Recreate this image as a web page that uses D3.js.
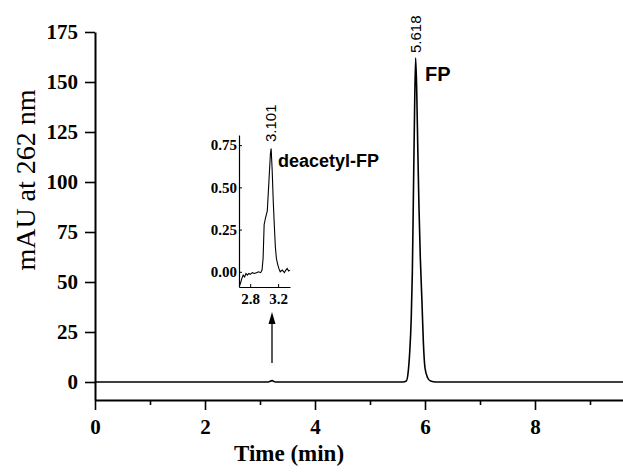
<!DOCTYPE html>
<html>
<head>
<meta charset="utf-8">
<script src="https://cdn.jsdelivr.net/npm/d3@7"></script>
<style>
  body { margin: 0; background: #fff; }
  svg { display: block; }
</style>
</head>
<body>
<div id="chart"></div>
<script>
'use strict';

var width = 623;
var height = 473;

// main trace (time in min, mAU)
var mainTimes = [0, 1, 2, 3, 3.15, 3.22, 3.28, 4, 5, 5.6, 5.66, 5.69, 5.72, 5.75, 5.77, 5.79, 5.81, 5.83, 5.85, 5.87, 5.89, 5.915, 5.945, 5.97, 6.0, 6.05, 6.1, 6.2, 7, 8, 9.6];
var mainValues = [0, 0, 0, 0, 0, 0.7, 0, 0, 0, 0, 0.5, 4, 14, 32, 55, 95, 135, 162, 145, 115, 88, 62, 40, 20, 7, 2, 0.5, 0, 0, 0, 0];

// inset trace, zoom on deacetyl-FP
var insetTimes = [2.645, 2.66, 2.68, 2.70, 2.72, 2.74, 2.76, 2.78, 2.80, 2.83, 2.86, 2.89, 2.92, 2.95, 2.97, 2.985, 3.00, 3.02, 3.045, 3.07, 3.09, 3.10, 3.115, 3.13, 3.145, 3.16, 3.175, 3.19, 3.21, 3.23, 3.26, 3.29, 3.31, 3.33, 3.35, 3.37];
var insetValues = [-0.085, -0.07, -0.04, -0.02, -0.03, -0.01, -0.02, -0.01, -0.015, -0.005, -0.01, -0.005, 0.0, -0.005, 0.01, 0.08, 0.28, 0.32, 0.36, 0.55, 0.70, 0.73, 0.60, 0.42, 0.28, 0.15, 0.08, 0.05, 0.02, 0.0, 0.01, -0.005, 0.01, 0.02, 0.005, 0.01];

var yTicks = [0, 25, 50, 75, 100, 125, 150, 175];
var xTicks = [0, 1, 2, 3, 4, 5, 6, 7, 8, 9];
var insetYTicks = [0, 0.25, 0.5, 0.75];
var insetXTicks = [2.8, 3.2];

var serif = '"Liberation Serif", "Times New Roman", serif';
var sans = '"Liberation Sans", Arial, sans-serif';

var svg = d3.select('#chart').append('svg').attr('width', width).attr('height', height);

var x = d3.scaleLinear().domain([0, 9.6]).range([95, 623]);
var y = d3.scaleLinear().domain([-9, 175]).range([400, 32]);

// y axis
var yAxis = svg.append('g').attr('transform', 'translate(95,0)')
  .call(d3.axisLeft(y).tickValues(yTicks).tickSize(10).tickSizeOuter(0).tickPadding(7));
yAxis.select('.domain').attr('stroke-width', 2);
yAxis.selectAll('.tick line').attr('stroke-width', 1.6);
yAxis.selectAll('.tick text').attr('font-family', serif).attr('font-weight', 'bold').attr('font-size', 21).attr('fill', '#000');

// x axis
var xAxis = svg.append('g').attr('transform', 'translate(0,400)')
  .call(d3.axisBottom(x).tickValues(xTicks).tickSize(10).tickSizeOuter(0).tickPadding(9)
    .tickFormat(function (d) { return d % 2 == 0 ? d : ''; }));
xAxis.select('.domain').attr('stroke-width', 2);
xAxis.selectAll('.tick line').attr('stroke-width', 1.6)
  .attr('y2', function (d) { return d % 2 == 0 ? 10 : 5; });
xAxis.selectAll('.tick text').attr('font-family', serif).attr('font-weight', 'bold').attr('font-size', 21).attr('fill', '#000');

// axis titles
svg.append('text').attr('x', 289).attr('y', 461).attr('text-anchor', 'middle')
  .attr('font-family', serif).attr('font-weight', 'bold').attr('font-size', 23).text('Time (min)');
svg.append('text').attr('transform', 'translate(35,180) rotate(-90)').attr('text-anchor', 'middle')
  .attr('font-family', serif).attr('font-size', 28).text('mAU at 262 nm');

// main trace
var mainData = mainTimes.map(function (t, i) { return [t, mainValues[i]]; });
var line = d3.line().x(function (d) { return x(d[0]); }).y(function (d) { return y(d[1]); }).curve(d3.curveMonotoneX);
svg.append('path').datum(mainData).attr('d', line).attr('fill', 'none').attr('stroke', '#000').attr('stroke-width', 1.6);

// peak labels
svg.append('text').attr('transform', 'translate(' + (x(5.83) + 5) + ',53) rotate(-90)')
  .attr('font-family', sans).attr('font-size', 15).text('5.618');
svg.append('text').attr('x', 425).attr('y', 81).attr('font-family', sans).attr('font-weight', 'bold').attr('font-size', 20).text('FP');

// inset
var xi = d3.scaleLinear().domain([2.64, 3.37]).range([239, 290]);
var yi = d3.scaleLinear().domain([-0.09, 0.81]).range([287, 135]);

var inset = svg.append('g').attr('id', 'inset');
var iy = inset.append('g').attr('transform', 'translate(239,0)')
  .call(d3.axisLeft(yi).tickValues(insetYTicks).tickSize(-3).tickSizeOuter(0).tickPadding(2)
    .tickFormat(d3.format('.2f')));
iy.selectAll('.tick text').attr('font-family', serif).attr('font-weight', 'bold').attr('font-size', 15).attr('fill', '#000');
iy.select('.domain').attr('stroke-width', 1.2);

var ix = inset.append('g').attr('transform', 'translate(0,287)')
  .call(d3.axisBottom(xi).tickValues(insetXTicks).tickSize(-3).tickSizeOuter(0).tickPadding(6));
ix.selectAll('.tick text').attr('font-family', serif).attr('font-weight', 'bold').attr('font-size', 15).attr('fill', '#000');
ix.select('.domain').attr('stroke-width', 1.2);

var insetData = insetTimes.map(function (t, i) { return [t, insetValues[i]]; });
var insetLine = d3.line().x(function (d) { return xi(d[0]); }).y(function (d) { return yi(d[1]); });
inset.append('path').datum(insetData).attr('d', insetLine).attr('fill', 'none').attr('stroke', '#000').attr('stroke-width', 1.1);

inset.append('text').attr('transform', 'translate(' + (xi(3.10) + 5) + ',142) rotate(-90)')
  .attr('font-family', sans).attr('font-size', 15).text('3.101');
inset.append('text').attr('x', 278).attr('y', 167).attr('font-family', sans).attr('font-weight', 'bold').attr('font-size', 18).text('deacetyl-FP');

// arrow pointing at the small peak
svg.append('line').attr('x1', 272).attr('x2', 272).attr('y1', 322).attr('y2', 363).attr('stroke', '#000').attr('stroke-width', 1.3);
svg.append('path').attr('d', 'M 272 312 L 268.5 324 L 275.5 324 Z').attr('fill', '#000');
</script>
</body>
</html>
